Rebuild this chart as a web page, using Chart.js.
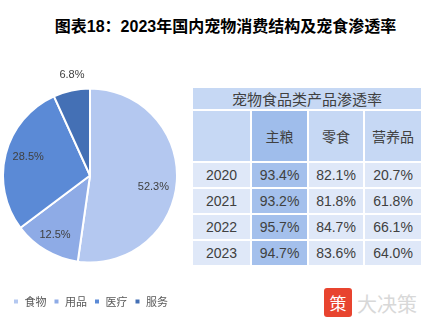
<!DOCTYPE html>
<html>
<head>
<meta charset="utf-8">
<script src="https://cdn.jsdelivr.net/npm/chart.js@4.4.0/dist/chart.umd.min.js"></script>
<style>
  body { margin: 0; width: 429px; height: 326px; background: #fff; position: relative; overflow: hidden;
         font-family: "Liberation Sans", Arial, "Noto Sans CJK SC", sans-serif; }
  #title { position: absolute; left: 0; width: 429px; top: 13px; text-align: center; padding-left: 22px; box-sizing: border-box;
           font-size: 16px; font-weight: bold; color: #000; }
  #pieWrap { position: absolute; left: 2px; top: 60px; width: 176px; height: 257px; }
  #tbl { position: absolute; left: 191px; top: 86px; border-collapse: separate; border-spacing: 2px;
         font-size: 14px; color: #404040; text-align: center; }
  #tbl td { padding: 0; }
  #logo { position: absolute; left: 324px; top: 288px; width: 28px; height: 29px; background: #e8442f; border-radius: 3px;
          color: #fff; font-size: 17px; line-height: 29px; text-align: center; font-family: "Noto Sans CJK SC"; }
  #brand { position: absolute; left: 357px; top: 289px; font-size: 20px; color: #d8d8d8; font-family: "Noto Sans CJK SC"; }
</style>
</head>
<body>
<div id="title">图表18：2023年国内宠物消费结构及宠食渗透率</div>
<div id="pieWrap"><canvas id="pie"></canvas></div>
<table id="tbl"></table>
<div id="logo">策</div>
<div id="brand">大决策</div>
<script>
// pie: consumption structure 2023
const segments = ["食物", "用品", "医疗", "服务"];
const shares = [52.3, 12.5, 28.5, 6.8];
const segColors = ["#b4c8f0", "#8eabe6", "#5b8ad6", "#4470b5"];

// table: penetration of pet food categories
const tableTitle = "宠物食品类产品渗透率";
const foodTypes = ["主粮", "零食", "营养品"];
const years = ["2020", "2021", "2022", "2023"];
const mainFood = [93.4, 93.2, 95.7, 94.7];
const snacks = [82.1, 81.8, 84.7, 83.6];
const supplements = [20.7, 61.8, 66.1, 64.0];

// build table
const tbl = document.getElementById("tbl");
const cols = [mainFood, snacks, supplements];
const widths = [57, 55, 54, 56];
let html = '<tr><td colspan="4" style="height:21px;background:#c6d8f4;font-size:15px">' + tableTitle + '</td></tr>';
html += '<tr><td style="width:' + widths[0] + 'px;height:50px;background:#c6d8f4"></td>';
foodTypes.forEach((t, i) => {
  const bg = i === 0 ? "#9fbdeb" : "#c6d8f4";
  html += '<td style="width:' + widths[i + 1] + 'px;background:' + bg + '">' + t + '</td>';
});
html += '</tr>';
years.forEach((y, r) => {
  html += '<tr><td style="height:24px;background:#dfe8f8">' + y + '</td>';
  cols.forEach((c, i) => {
    const bg = i === 0 ? "#a4c0ec" : "#dfe8f8";
    html += '<td style="background:' + bg + '">' + c[r].toFixed(1) + '%</td>';
  });
  html += '</tr>';
});
tbl.innerHTML = html;

// percentage labels on the slices
const labelFactor = [0.74, 0.79, 0.74, 1.17];
const labelShift = [6, 0, 2, 2]; // degrees
const pieLabels = {
  id: "pieLabels",
  afterLayout(chart) {
    // nudge legend a bit right of the pie edge
    chart.legend.left += 4;
    chart.legend.right += 4;
  },
  afterDatasetsDraw(chart) {
    const ctx = chart.ctx;
    const meta = chart.getDatasetMeta(0);
    ctx.save();
    ctx.font = "11px 'Liberation Sans', Arial";
    ctx.fillStyle = "#404040";
    ctx.textAlign = "center";
    ctx.textBaseline = "middle";
    meta.data.forEach((arc, i) => {
      const a = (arc.startAngle + arc.endAngle) / 2 + labelShift[i] * Math.PI / 180;
      const r = arc.outerRadius * labelFactor[i];
      ctx.fillText(shares[i].toFixed(1) + "%", arc.x + Math.cos(a) * r, arc.y + Math.sin(a) * r);
    });
    ctx.restore();
  }
};

new Chart(document.getElementById("pie"), {
  type: "pie",
  data: {
    labels: segments,
    datasets: [{
      data: shares,
      backgroundColor: segColors,
      borderColor: "#ffffff",
      borderWidth: 2
    }]
  },
  options: {
    responsive: true,
    maintainAspectRatio: false,
    animation: false,
    layout: { padding: { top: 2, left: 0, right: 0, bottom: 0 } },
    plugins: {
      tooltip: { enabled: false },
      legend: {
        position: "bottom",
        align: "start",
        labels: {
          boxWidth: 6,
          boxHeight: 6,
          padding: 7,
          color: "#595959",
          font: { size: 11, family: "'Noto Sans CJK SC'" }
        }
      }
    }
  },
  plugins: [pieLabels]
});
</script>
</body>
</html>
